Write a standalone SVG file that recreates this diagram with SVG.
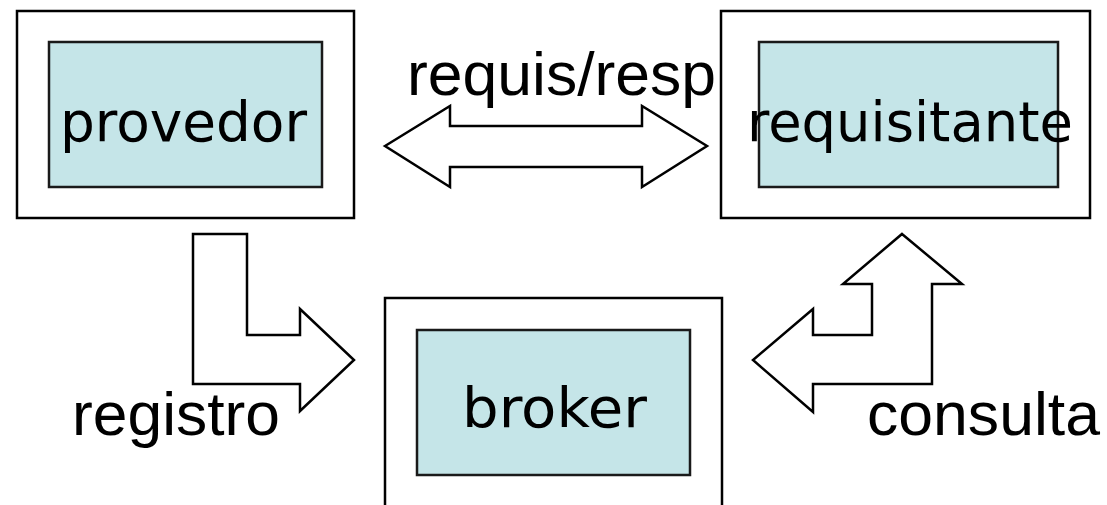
<svg xmlns="http://www.w3.org/2000/svg" width="1107" height="505" viewBox="0 0 1107 505">
<style>
.outer{fill:#fff;stroke:#000;stroke-width:2.5}
.inner{fill:#c5e5e8;stroke:#1a1a1a;stroke-width:2.5}
.node{font-family:"DejaVu Sans",sans-serif;font-size:56px;fill:#000}
.lbl{font-family:"Liberation Sans",Arial,sans-serif;font-size:62px;fill:#000}
.arr{fill:#fff;stroke:#000;stroke-width:2.5;stroke-linejoin:miter}
</style>
<rect width="1107" height="505" fill="#fff"/>
<g id="provedor">
<rect class="outer" x="17" y="11" width="337" height="207"/>
<rect class="inner" x="49" y="42" width="273" height="145"/>
<text class="node" x="60" y="141" textLength="247" lengthAdjust="spacingAndGlyphs">provedor</text>
</g>
<g id="requisitante">
<rect class="outer" x="721" y="11" width="369" height="207"/>
<rect class="inner" x="759" y="42" width="299" height="145"/>
<text class="node" x="747" y="141" textLength="326" lengthAdjust="spacingAndGlyphs">requisitante</text>
</g>
<g id="broker">
<rect class="outer" x="385" y="298" width="337" height="230"/>
<rect class="inner" x="417" y="330" width="273" height="145"/>
<text class="node" x="462" y="427" textLength="185" lengthAdjust="spacingAndGlyphs">broker</text>
</g>
<g id="connectors">
<polygon class="arr" points="385,146 450,106 450,126 642,126 642,106 707,146 642,187 642,167 450,167 450,187"/>
<polygon class="arr" points="193,234 247,234 247,335 300,335 300,309 354,360 300,411 300,384 193,384"/>
<polygon class="arr" points="902,234 962,284 932,284 932,384 813,384 813,412 753,360 813,309 813,335 872,335 872,284 843,284"/>
<text class="lbl" x="407" y="95" textLength="309" lengthAdjust="spacingAndGlyphs">requis/resp</text>
<text class="lbl" x="72" y="435" textLength="208" lengthAdjust="spacingAndGlyphs">registro</text>
<text class="lbl" x="867" y="435" textLength="233" lengthAdjust="spacingAndGlyphs">consulta</text>
</g>
</svg>
